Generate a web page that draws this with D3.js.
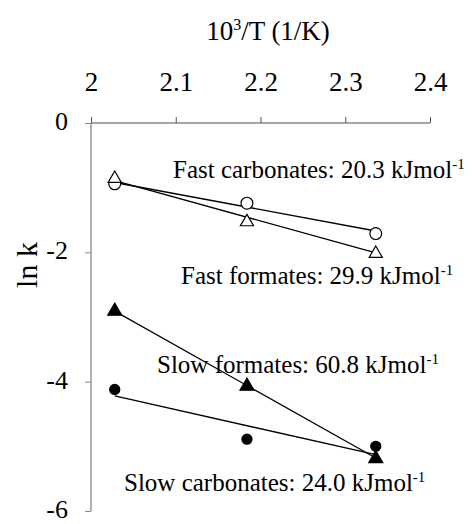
<!DOCTYPE html>
<html>
<head>
<meta charset="utf-8">
<script src="https://cdn.jsdelivr.net/npm/d3@7"></script>
<style>
  body { margin: 0; background: #fff; }
  svg text { font-family: "Liberation Serif", "Times New Roman", serif; fill: #000; }
</style>
</head>
<body>
<div id="chart"></div>
<script>
// 1000/T values (1/K)
const invT = [2.028, 2.184, 2.336];
// fitted Arrhenius lines evaluated at first and last temperature
const fitX = [2.028, 2.336];

const fastCarbonates = [-0.94, -1.24, -1.71];
const fastFormates = [-0.86, -1.53, -2.02];
const slowFormates = [-2.91, -4.07, -5.19];
const slowCarbonates = [-4.12, -4.89, -5.0];

const fastCarbonatesFit = [-0.92, -1.67];
const fastFormatesFit = [-0.89, -2.01];
const slowFormatesFit = [-2.91, -5.18];
const slowCarbonatesFit = [-4.22, -5.13];

const xTicks = [2, 2.1, 2.2, 2.3, 2.4];
const yTicks = [0, -2, -4, -6];

const labels = [
    { name: "Fast carbonates", ea: "20.3" },
    { name: "Fast formates", ea: "29.9" },
    { name: "Slow formates", ea: "60.8" },
    { name: "Slow carbonates", ea: "24.0" }
];

const width = 475;
const height = 524;

const svg = d3.select("#chart").append("svg")
    .attr("width", width)
    .attr("height", height);

const x = d3.scaleLinear().domain([2, 2.4]).range([91, 430]);
const y = d3.scaleLinear().domain([0, -6]).range([123, 511]);

const axisColor = "#888";

// x axis on top (at ln k = 0)
const xAxis = svg.append("g")
    .attr("transform", `translate(0,${y(0)})`)
    .call(d3.axisTop(x).tickValues(xTicks).tickFormat(d => String(d)).tickSize(6).tickPadding(26));
xAxis.select(".domain").attr("stroke", axisColor).attr("stroke-width", 1.3).attr("d", `M${x(2)},0H${x(2.4)}`);
xAxis.selectAll(".tick line").attr("stroke", "#555").attr("stroke-width", 1);
xAxis.selectAll("text").style("font-size", "27px").attr("font-family", null);

// y axis
const yAxis = svg.append("g")
    .attr("transform", `translate(${x(2)},0)`)
    .call(d3.axisLeft(y).tickValues(yTicks).tickFormat(d => String(d)).tickSize(6).tickPadding(17));
yAxis.select(".domain").attr("stroke", axisColor).attr("stroke-width", 1.3).attr("d", `M0,${y(0)}V${y(-6)}`);
yAxis.selectAll(".tick line").attr("stroke", axisColor).attr("stroke-width", 1);
yAxis.selectAll("text").style("font-size", "26px").attr("dy", "0.25em").attr("font-family", null);

// axis titles
const xTitle = svg.append("text")
    .attr("x", 268)
    .attr("y", 40)
    .attr("text-anchor", "middle")
    .style("font-size", "27px");
xTitle.append("tspan").text("10");
xTitle.append("tspan").attr("dy", -10).style("font-size", "16px").text("3");
xTitle.append("tspan").attr("dy", 10).text("/T (1/K)");

svg.append("text")
    .attr("transform", "translate(37,265) rotate(-90)")
    .attr("text-anchor", "middle")
    .style("font-size", "30px")
    .text("ln k");

// fit lines
const fits = [fastCarbonatesFit, fastFormatesFit, slowFormatesFit, slowCarbonatesFit];
const line = d3.line().x((d, i) => x(fitX[i])).y(d => y(d));
svg.selectAll(".fit")
    .data(fits)
    .join("path")
    .attr("class", "fit")
    .attr("d", line)
    .attr("fill", "none")
    .attr("stroke", "#000")
    .attr("stroke-width", 1.3);

// markers
const series = [
    { values: fastCarbonates, shape: d3.symbolCircle, size: 110, filled: false },
    { values: fastFormates, shape: d3.symbolTriangle, size: 75, filled: false },
    { values: slowFormates, shape: d3.symbolTriangle, size: 85, filled: true },
    { values: slowCarbonates, shape: d3.symbolCircle, size: 80, filled: true }
];

series.forEach(s => {
    svg.append("g").selectAll("path")
        .data(s.values)
        .join("path")
        .attr("transform", (d, i) => `translate(${x(invT[i])},${y(d)})`)
        .attr("d", d3.symbol().type(s.shape).size(s.size))
        .attr("fill", s.filled ? "#000" : "#fff")
        .attr("stroke", "#000")
        .attr("stroke-width", 1.2);
});

// activation energy annotations
const labelPos = [[173, 178], [181, 284], [157, 373], [124, 491]];
labels.forEach((l, i) => {
    const t = svg.append("text")
        .attr("x", labelPos[i][0])
        .attr("y", labelPos[i][1])
        .style("font-size", "25px");
    t.append("tspan").text(`${l.name}: ${l.ea} kJmol`);
    t.append("tspan").attr("dy", -9).style("font-size", "15px").text("-1");
});
</script>
</body>
</html>
